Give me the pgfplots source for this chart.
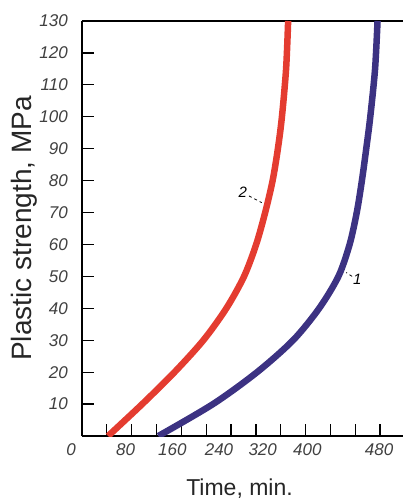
\documentclass[border=0pt]{standalone}
\usepackage{fontspec}
\setmainfont{Liberation Sans}
\usepackage{pgfplots}
\pgfplotsset{compat=1.18}
\definecolor{cred}{RGB}{228,60,48}
\definecolor{cblue}{RGB}{60,50,130}
\newcommand\sh[2]{\makebox[0pt]{\hspace*{#1}\hspace*{#1}#2}}
\begin{document}
\begin{tikzpicture}
\useasboundingbox (-82pt,-65pt) rectangle (321pt,436pt);
\begin{axis}[
  at={(0,0)}, anchor=south west,
  scale only axis, width=321pt, height=415pt,
  xmin=0, xmax=517, ymin=0, ymax=130,
  axis x line*=bottom, axis y line*=left,
  axis line style={-, line width=1.4pt},
  xtick={0,40,...,480},
  xticklabels={\sh{-11pt}{0},,\sh{-6pt}{80},,\sh{-9pt}{160},,\sh{-12pt}{240},,\sh{-18pt}{320},,\sh{-23pt}{400},,\sh{-1pt}{480}},
  ytick={10,20,...,130},
  /pgf/number format/assume math mode=true,
  tick align=inside, major tick length=12pt,
  tick style={line width=1.3pt, black},
  ticklabel style={font=\itshape\fontsize{17}{17}\selectfont, text=black!75, inner sep=0pt},
  yticklabel style={xshift=-14pt},
  xticklabel style={yshift=-7pt},
  xlabel={Time, min.},
  xlabel style={font=\fontsize{23}{23}\selectfont, text=black!85, at={(axis description cs:0.4907,0)}, anchor=base, yshift=-59pt},
  ylabel={Plastic strength, MPa},
  ylabel style={font=\fontsize{28}{28}\selectfont, text=black!85, at={(axis description cs:-0.1807,0.5)}, anchor=center},
]
\draw[line width=1.4pt] (rel axis cs:0,1) -- (rel axis cs:1,1);
% curve 2 (red)
\addplot[cred, line width=6.5pt, smooth] coordinates {
 (42,0) (97,10) (149,20) (195.5,30) (232.5,40) (261,50) (280.5,60) (295,70)
 (307,80) (315.5,90) (322,100) (328.7,115) (332,130)};
% curve 1 (blue)
\addplot[cblue, line width=6.5pt, smooth] coordinates {
 (123,0) (211,10) (282,20) (340,30) (382,40) (413,50) (431,60) (442.5,70)
 (450.8,80) (457.8,90) (464.3,100) (472,115) (476,130)};
\node[font=\itshape\fontsize{15}{15}\selectfont] at (axis cs:258.9,76.5) {2};
\draw[dashed, line width=0.8pt] (axis cs:269,75.2) -- (axis cs:289.5,73.1);
\node[font=\itshape\fontsize{15}{15}\selectfont] at (axis cs:443.5,49.2) {1};
\draw[dashed, line width=0.8pt] (axis cs:435,50) -- (axis cs:425.5,51.2);
\end{axis}
\end{tikzpicture}
\end{document}
